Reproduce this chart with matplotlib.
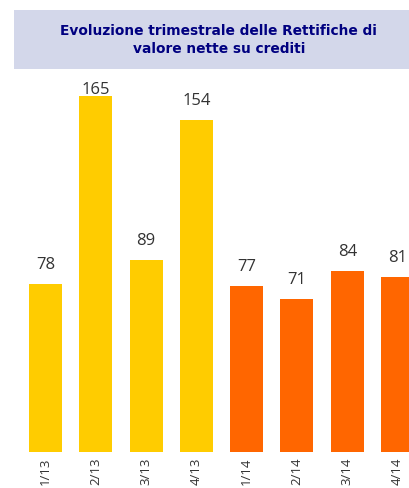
import matplotlib.pyplot as plt
from matplotlib.patches import Rectangle

# dati
trimestri = ["1/13", "2/13", "3/13", "4/13", "1/14", "2/14", "3/14", "4/14"]
rettifiche = [78, 165, 89, 154, 77, 71, 84, 81]
colori = ["#FFCC00"] * 4 + ["#FF6600"] * 4

titolo = "Evoluzione trimestrale delle Rettifiche di\nvalore nette su crediti"

fig = plt.figure(figsize=(4.09, 4.89), dpi=100)

# riquadro del titolo
fig.patches.append(Rectangle((14 / 409, 1 - 70 / 489), 1, 59 / 489,
                             transform=fig.transFigure, facecolor="#D3D7EA",
                             edgecolor="none"))
fig.text(0.535, 1 - 40 / 489, titolo, ha="center", va="center",
         fontsize=9.9, fontweight="bold", color="#000080",
         family="DejaVu Sans", linespacing=1.45)

ax = fig.add_axes([0, 36 / 489, 1, 373 / 489])
x = range(len(trimestri))
ax.bar(x, rettifiche, width=0.656, color=colori)
ax.set_xlim(-0.905, 7.227)
ax.set_ylim(0, 172.8)

for i, v in enumerate(rettifiche):
    ax.text(i, min(v + 9.3, 168.2), str(v), ha="center", va="center",
            fontsize=12, color="#333333", family="Open Sans")

ax.set_xticks(list(x))
ax.set_xticklabels(trimestri, rotation=90, fontsize=9.5, color="#333333",
                   family="Open Sans", va="top")
ax.tick_params(axis="x", length=0, pad=3)
ax.set_yticks([])
for s in ax.spines.values():
    s.set_visible(False)

fig.savefig("out.png", dpi=100)
